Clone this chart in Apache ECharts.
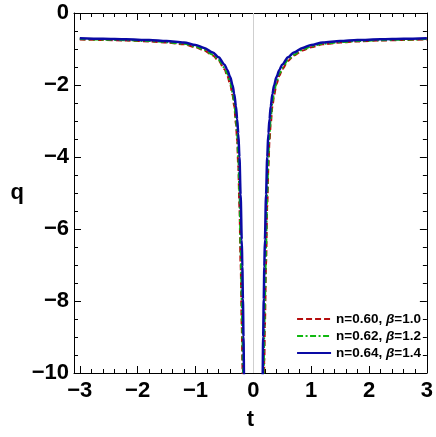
<!DOCTYPE html>
<html>
<head>
<meta charset="utf-8">
<script src="https://cdn.jsdelivr.net/npm/echarts@6/dist/echarts.min.js"></script>
<style>
html,body{margin:0;padding:0;background:#fff;}
#c{width:436px;height:437px;}
</style>
</head>
<body>
<div id="c"></div>
<script>
// time values t (symmetric around 0; null break between branches)
const tLeft = [-3.0,-2.6,-2.2,-1.8,-1.5,-1.2,-1.0,-0.85,-0.70,-0.60,-0.50,-0.45,-0.40,-0.36,-0.33,-0.30,-0.28,-0.26,-0.24,-0.22,-0.20,-0.19,-0.18,-0.17,-0.16,-0.15];
const tRight = [0.15,0.16,0.17,0.18,0.19,0.20,0.22,0.24,0.26,0.28,0.30,0.33,0.36,0.40,0.45,0.50,0.60,0.70,0.85,1.0,1.2,1.5,1.8,2.2,2.6,3.0];

// q for n=0.60, beta=1.0 (red dashed)
const qRedLeft = [-0.735,-0.75,-0.765,-0.79,-0.82,-0.87,-0.95,-1.04,-1.18,-1.33,-1.56,-1.74,-1.98,-2.28,-2.6,-3.1,-3.55,-4.3,-5.4,-7.0,-8.7,-9.7,-10.8,-12.0,-13.5,-15.0];
const qRedRight = [-15.0,-13.5,-12.0,-10.8,-9.7,-8.7,-7.0,-5.4,-4.3,-3.55,-3.1,-2.6,-2.28,-1.98,-1.74,-1.56,-1.33,-1.18,-1.04,-0.95,-0.87,-0.82,-0.79,-0.765,-0.75,-0.735];

// q for n=0.62, beta=1.2 (green dot-dashed)
const qGreenLeft = [-0.725,-0.74,-0.755,-0.78,-0.81,-0.855,-0.93,-1.02,-1.16,-1.30,-1.52,-1.69,-1.92,-2.2,-2.48,-2.95,-3.35,-4.0,-5.0,-6.5,-8.0,-8.9,-9.9,-11.0,-12.5,-14.0];
const qGreenRight = [-14.0,-12.5,-11.0,-9.9,-8.9,-8.0,-6.5,-5.0,-4.0,-3.35,-2.95,-2.48,-2.2,-1.92,-1.69,-1.52,-1.30,-1.16,-1.02,-0.93,-0.855,-0.81,-0.78,-0.755,-0.74,-0.725];

// q for n=0.64, beta=1.4 (blue solid)
const qBlueLeft = [-0.70,-0.715,-0.73,-0.75,-0.78,-0.82,-0.89,-0.97,-1.10,-1.23,-1.43,-1.58,-1.78,-2.0,-2.25,-2.6,-2.95,-3.35,-4.0,-5.05,-6.3,-7.05,-7.95,-9.0,-10.2,-11.6];
const qBlueRight = [-11.6,-10.2,-9.0,-7.95,-7.05,-6.3,-5.05,-4.0,-3.35,-2.95,-2.6,-2.25,-2.0,-1.78,-1.58,-1.43,-1.23,-1.10,-0.97,-0.89,-0.82,-0.78,-0.75,-0.73,-0.715,-0.70];

const seriesNames = ['n=0.60, β=1.0','n=0.62, β=1.2','n=0.64, β=1.4'];
const xTickLabels = [-3,-2,-1,0,1,2,3];
const yTickLabels = [0,-2,-4,-6,-8,-10];

function pairs(tl, ql, tr, qr){
  const d = tl.map((t,i)=>[t, ql[i]]);
  d.push('-');
  return d.concat(tr.map((t,i)=>[t, qr[i]]));
}
const xMinor = [];
for (let k=-15;k<=15;k++){ if (k%5!==0) xMinor.push(+(k*0.2).toFixed(1)); }

const FONT = '"Liberation Sans", Arial, sans-serif';
const minus = v => (v<0 ? '\u2212'+Math.abs(v) : String(v));
const XMIN=-3.1, XMAX=3.0;
const lab = {fontFamily:FONT, fontWeight:'bold', fontSize:22, color:'#000'};

const chart = echarts.init(document.getElementById('c'), null, {renderer:'canvas'});
chart.setOption({
  animation:false,
  backgroundColor:'#fff',
  grid:{left:74,right:8,top:13,bottom:64,containLabel:false},
  xAxis:[
    {type:'value',position:'bottom',min:XMIN,max:XMAX,
     name:'t',nameLocation:'middle',nameGap:36,nameTextStyle:lab,
     axisLine:{show:true,onZero:false,lineStyle:{color:'#000',width:1}},
     axisTick:{show:true,inside:true,length:7,customValues:xTickLabels,lineStyle:{color:'#000'}},
     axisLabel:{show:true,customValues:xTickLabels,margin:7,formatter:minus,...lab},
     splitLine:{show:false}},
    {type:'value',position:'bottom',min:XMIN,max:XMAX,
     axisLine:{show:false,onZero:false},
     axisTick:{show:true,inside:true,length:4,customValues:xMinor,lineStyle:{color:'#000'}},
     axisLabel:{show:false},splitLine:{show:false}},
    {type:'value',position:'top',min:XMIN,max:XMAX,
     axisLine:{show:true,onZero:false,lineStyle:{color:'#000',width:1}},
     axisTick:{show:true,inside:true,length:7,customValues:xTickLabels,lineStyle:{color:'#000'}},
     axisLabel:{show:false},splitLine:{show:false}},
    {type:'value',position:'top',min:XMIN,max:XMAX,
     axisLine:{show:false,onZero:false},
     axisTick:{show:true,inside:true,length:4,customValues:xMinor,lineStyle:{color:'#000'}},
     axisLabel:{show:false},splitLine:{show:false}}
  ],
  yAxis:[
    {type:'value',position:'left',min:-10,max:0,interval:2,
     name:'q',nameLocation:'middle',nameGap:50,nameRotate:0,nameTextStyle:lab,
     axisLine:{show:true,onZero:false,lineStyle:{color:'#000',width:1}},
     axisTick:{show:true,inside:true,length:7,lineStyle:{color:'#000'}},
     minorTick:{show:true,splitNumber:4,length:4,lineStyle:{color:'#000'}},
     axisLabel:{show:true,margin:5,formatter:minus,...lab},
     splitLine:{show:false}},
    {type:'value',position:'right',min:-10,max:0,interval:2,
     axisLine:{show:true,onZero:false,lineStyle:{color:'#000',width:1}},
     axisTick:{show:true,inside:true,length:7,lineStyle:{color:'#000'}},
     minorTick:{show:true,splitNumber:4,length:4,lineStyle:{color:'#000'}},
     axisLabel:{show:false},splitLine:{show:false}}
  ],
  legend:{
    orient:'vertical',right:10,top:307,itemWidth:34,itemHeight:14,itemGap:3,
    data:seriesNames,
    itemStyle:{opacity:0,borderWidth:0},
    formatter:function(name){
      const m = name.match(/^(n=[0-9.]+, )β(=.*)$/);
      return '{a|'+m[1]+'}{b|β}{a|'+m[2]+'}';
    },
    textStyle:{rich:{
      a:{fontFamily:FONT,fontWeight:'bold',fontSize:13.5,color:'#000'},
      b:{fontFamily:FONT,fontWeight:'bold',fontStyle:'italic',fontSize:13.5,color:'#000'}
    }}
  },
  series:[
    {name:seriesNames[0],type:'line',xAxisIndex:0,yAxisIndex:0,showSymbol:false,symbol:'none',
     smooth:0.3,smoothMonotone:'x',connectNulls:false,
     data:pairs(tLeft,qRedLeft,tRight,qRedRight),
     lineStyle:{color:'#b50d0d',width:2,type:[6,3]},itemStyle:{color:'#b50d0d'},
     markLine:{silent:true,symbol:'none',label:{show:false},
       lineStyle:{color:'#cfcfcf',width:1,type:'solid'},data:[{xAxis:0}]}},
    {name:seriesNames[1],type:'line',xAxisIndex:0,yAxisIndex:0,showSymbol:false,symbol:'none',
     smooth:0.3,smoothMonotone:'x',connectNulls:false,
     data:pairs(tLeft,qGreenLeft,tRight,qGreenRight),
     lineStyle:{color:'#10b810',width:2,type:[6,2.5,2,2.5]},itemStyle:{color:'#10b810'}},
    {name:seriesNames[2],type:'line',xAxisIndex:0,yAxisIndex:0,showSymbol:false,symbol:'none',
     smooth:0.3,smoothMonotone:'x',connectNulls:false,
     data:pairs(tLeft,qBlueLeft,tRight,qBlueRight),
     lineStyle:{color:'#0a0aa5',width:2.5,type:'solid'},itemStyle:{color:'#0a0aa5'}}
  ]
});
</script>
</body>
</html>
